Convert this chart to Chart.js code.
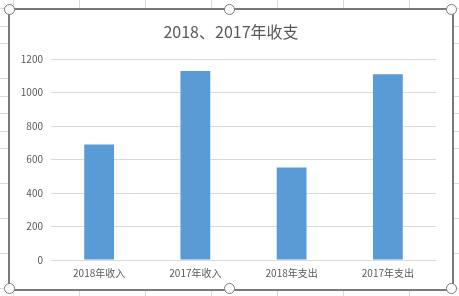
<!doctype html>
<html lang="zh-CN">
  <head>
    <meta charset="UTF-8" />
    <title>2018、2017年收支</title>
    <script src="https://cdn.jsdelivr.net/npm/chart.js"></script>
    <style>
      body {
        margin: 0;
        width: 459px;
        height: 296px;
        overflow: hidden;
        position: relative;
        background-color: #fff;
        background-image:
          repeating-linear-gradient(to right, transparent 0, transparent 13px, #dadada 13px, #dadada 14px, transparent 14px, transparent 66px),
          repeating-linear-gradient(to bottom, transparent 0, transparent 8px, #dadada 8px, #dadada 9px, transparent 9px, transparent 17.5px);
      }
      .frame {
        position: absolute;
        left: 8px;
        top: 8px;
        width: 442px;
        height: 279px;
        border: 2px solid #7a7a7a;
        background: #fff;
      }
      canvas {
        position: absolute;
        left: 1px;
        top: 0;
      }
      .handle {
        position: absolute;
        width: 9px;
        height: 9px;
        margin: -5.5px 0 0 -5.5px;
        border: 1px solid #7a7a7a;
        border-radius: 50%;
        background: #fff;
      }
    </style>
  </head>
  <body>
    <div class="frame">
      <canvas id="barChart" width="440" height="278"></canvas>
    </div>
    <div class="handle" style="left: 9px; top: 9px"></div>
    <div class="handle" style="left: 229px; top: 9px"></div>
    <div class="handle" style="left: 451px; top: 9px"></div>
    <div class="handle" style="left: 9px; top: 288px"></div>
    <div class="handle" style="left: 229px; top: 288px"></div>
    <div class="handle" style="left: 451px; top: 288px"></div>

    <script>
      const categories = ['2018年收入', '2017年收入', '2018年支出', '2017年支出'];
      const amounts = [690, 1130, 553, 1110];
      const yTicks = [0, 200, 400, 600, 800, 1000, 1200];

      const fontFamily = '"Noto Sans CJK SC", "Liberation Sans", sans-serif';
      const textColor = '#595959';

      const ctx = document.getElementById('barChart').getContext('2d');

      new Chart(ctx, {
        type: 'bar',
        data: {
          labels: categories,
          datasets: [
            {
              label: '金额',
              data: amounts,
              backgroundColor: '#5B9BD5',
              categoryPercentage: 1,
              barPercentage: 0.31,
            },
          ],
        },
        options: {
          responsive: false,
          animation: false,
          plugins: {
            legend: { display: false },
            tooltip: { enabled: false },
            title: {
              display: true,
              text: '2018、2017年收支',
              color: textColor,
              font: { family: fontFamily, size: 16, weight: 'normal' },
              padding: { top: 12, bottom: 18 },
            },
          },
          scales: {
            x: {
              grid: { display: false, drawTicks: false },
              border: { display: false },
              ticks: {
                color: textColor,
                font: { family: fontFamily, size: 10 },
                padding: 7,
                maxRotation: 0,
              },
              afterFit(scale) {
                scale.height = 28;
              },
            },
            y: {
              min: 0,
              max: 1200,
              afterBuildTicks(scale) {
                scale.ticks = yTicks.map((v) => ({ value: v }));
              },
              grid: { color: '#d9d9d9', drawTicks: false },
              border: { display: false },
              ticks: {
                color: textColor,
                font: { family: fontFamily, size: 10 },
                padding: 8,
                callback: (value) => String(value),
              },
              afterFit(scale) {
                scale.width = 40;
              },
            },
            // empty right-hand spacer so the title stays centred on the whole frame
            spacer: {
              axis: 'y',
              position: 'right',
              min: 0,
              max: 1200,
              grid: { display: false },
              border: { display: false },
              ticks: { display: false },
              afterFit(scale) {
                scale.width = 15;
              },
            },
          },
        },
      });
    </script>
  </body>
</html>
